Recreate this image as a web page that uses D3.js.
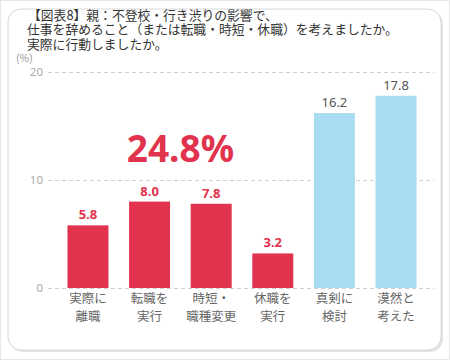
<!DOCTYPE html>
<html lang="ja">
<head>
<meta charset="UTF-8">
<title>図表8</title>
<style>
  body { margin: 0; background: #fff; }
  svg { display: block; font-family: "Noto Sans CJK JP", "Noto Sans", sans-serif; }
  .grid line { stroke: #cfcfcf; stroke-dasharray: 4,3; }
  .grid .domain { display: none; }
</style>
</head>
<body>
<svg width="450" height="360"></svg>
<script src="https://d3js.org/d3.v7.min.js"></script>
<script>
  // data
  var categories = [["実際に", "離職"], ["転職を", "実行"], ["時短・", "職種変更"], ["休職を", "実行"], ["真剣に", "検討"], ["漠然と", "考えた"]];
  var values = [5.8, 8.0, 7.8, 3.2, 16.2, 17.8];
  var acted = [true, true, true, true, false, false];
  var yTicks = [0, 10, 20];
  var titleLines = ["【図表8】親：不登校・行き渋りの影響で、", "仕事を辞めること（または転職・時短・休職）を考えましたか。", "実際に行動しましたか。"];
  var total = "24.8%";

  var svg = d3.select("svg");

  // frame
  svg.append("rect").attr("x", 0.5).attr("y", 0.5).attr("width", 449).attr("height", 359)
    .attr("fill", "none").attr("stroke", "#e6e6e6");
  svg.append("rect").attr("x", 10).attr("y", 11).attr("width", 433).attr("height", 341)
    .attr("rx", 13).attr("fill", "#e4e4e4");
  svg.append("rect").attr("x", 8).attr("y", 9).attr("width", 433).attr("height", 341)
    .attr("rx", 13).attr("fill", "#fff").attr("stroke", "#d8d8d8");

  // title
  svg.append("g").selectAll("text").data(titleLines).enter().append("text")
    .attr("x", function(d, i) { return i == 0 ? 28 : 27; })
    .attr("y", function(d, i) { return 19.5 + i * 14.5; })
    .attr("font-size", 12.8).attr("fill", "#333")
    .text(function(d) { return d; });

  svg.append("text").attr("x", 16).attr("y", 62).attr("font-size", 10.5).attr("fill", "#999").text("(%)");

  var x = d3.scaleBand().domain(d3.range(values.length)).range([57, 427]).paddingInner(0.335).paddingOuter(0.17);
  var y = d3.scaleLinear().domain([0, 20]).range([288, 72]);

  var grid = svg.append("g").attr("class", "grid").attr("transform", "translate(48,0)")
    .call(d3.axisLeft(y).tickValues(yTicks).tickSize(-386).tickPadding(5));
  grid.selectAll("text").attr("fill", "#aaa").attr("font-size", 11.5).attr("font-family", "Noto Sans, sans-serif");

  svg.append("g").selectAll("rect").data(values).enter().append("rect")
    .attr("x", function(d, i) { return x(i); })
    .attr("y", function(d) { return y(d); })
    .attr("width", x.bandwidth())
    .attr("height", function(d) { return y(0) - y(d); })
    .attr("fill", function(d, i) { return acted[i] ? "#e2334e" : "#a8dcf0"; });

  svg.append("g").selectAll("text").data(values).enter().append("text")
    .attr("x", function(d, i) { return x(i) + x.bandwidth() / 2; })
    .attr("y", function(d) { return y(d) - 6; })
    .attr("text-anchor", "middle")
    .attr("font-family", "Noto Sans, sans-serif")
    .attr("font-size", 13)
    .attr("font-weight", function(d, i) { return acted[i] ? "bold" : "normal"; })
    .attr("fill", function(d, i) { return acted[i] ? "#e2334e" : "#555"; })
    .text(function(d) { return d.toFixed(1); });

  var labels = svg.append("g").selectAll("text").data(categories).enter().append("text")
    .attr("x", function(d, i) { return x(i) + x.bandwidth() / 2; })
    .attr("y", 303)
    .attr("text-anchor", "middle").attr("font-size", 12.5).attr("fill", "#666");
  labels.selectAll("tspan").data(function(d) { return d; }).enter().append("tspan")
    .attr("x", function() { return d3.select(this.parentNode).attr("x"); })
    .attr("dy", function(d, i) { return i == 0 ? 0 : 18; })
    .text(function(d) { return d; });

  svg.append("text").attr("x", (x(1) + x(2) + x.bandwidth()) / 2).attr("y", 162)
    .attr("text-anchor", "middle").attr("font-family", "Noto Sans, sans-serif")
    .attr("font-size", 37).attr("font-weight", "bold").attr("fill", "#e2334e").text(total);
</script>
</body>
</html>
